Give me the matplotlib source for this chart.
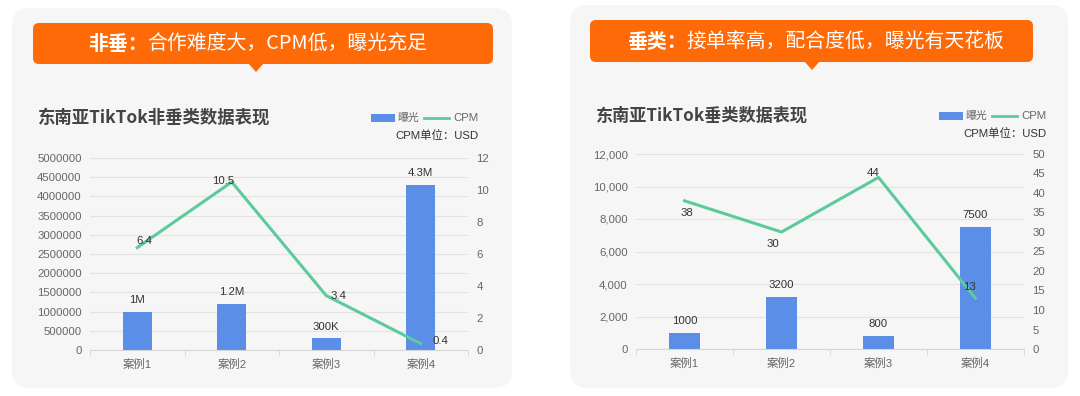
import numpy as np
import matplotlib
matplotlib.use('Agg')
import matplotlib.pyplot as plt
from matplotlib.patches import FancyBboxPatch, Polygon, Rectangle
from matplotlib.lines import Line2D
from matplotlib.ticker import FuncFormatter

plt.rcParams['font.family'] = ['Liberation Sans', 'Noto Sans CJK SC', 'DejaVu Sans']
CJK = ['Noto Sans CJK SC', 'DejaVu Sans']

# data
categories = ['案例1', '案例2', '案例3', '案例4']

left_exposure = [1000000, 1200000, 300000, 4300000]
left_exposure_labels = ['1M', '1.2M', '300K', '4.3M']
left_cpm = [6.4, 10.5, 3.4, 0.4]

right_exposure = [1000, 3200, 800, 7500]
right_exposure_labels = ['1000', '3200', '800', '7500']
right_cpm = [38, 30, 44, 13]

BLUE = '#5b8ee6'
GREEN = '#5ccb9b'
ORANGE = '#fd6a07'
PANEL = '#f6f6f7'
TICK = '#666666'
DARK = '#333333'
FS = 8.2

fig = plt.figure(figsize=(10.8, 3.96), dpi=100)
fig.patch.set_facecolor('white')

# background layer in pixel coords
bg = fig.add_axes([0, 0, 1, 1])
bg.set_xlim(0, 1080)
bg.set_ylim(396, 0)
bg.axis('off')


def panel(x0, y0, x1, y1):
    bg.add_patch(FancyBboxPatch((x0 + 18, y0 + 18), x1 - x0 - 36, y1 - y0 - 36,
                                boxstyle='round,pad=18', fc=PANEL, ec='none'))


def banner(x0, y0, x1, y1, tip, bold_txt, txt, tx):
    bg.add_patch(FancyBboxPatch((x0 + 6, y0 + 6), x1 - x0 - 12, y1 - y0 - 12,
                                boxstyle='round,pad=6', fc=ORANGE, ec='none'))
    bg.add_patch(Polygon([(tip - 8, y1 - 1), (tip + 8, y1 - 1), (tip, y1 + 8)],
                         closed=True, fc=ORANGE, ec='none'))
    cy = (y0 + y1) / 2
    t = bg.text(tx, cy, bold_txt, color='white', fontsize=14.3, fontweight='bold',
                va='center', ha='left', family=CJK)
    bg.annotate(txt, xy=(1, 0.5), xycoords=t, xytext=(0, 0), textcoords='offset points',
                color='white', fontsize=14.3, va='center', ha='left', family=CJK)


def header(x_title, y, title, size, R):
    bg.text(x_title, y, title, fontsize=size, fontweight='bold', color='#444444',
            va='center', ha='left', family=CJK)
    # legend, laid out from its right edge R
    bg.add_patch(Rectangle((R - 107, y - 4), 24, 8, fc=BLUE, ec='none'))
    bg.text(R - 81, y, '曝光', fontsize=7.8, color=TICK, va='center', ha='left')
    bg.add_line(Line2D([R - 54, R - 29], [y, y], color=GREEN, lw=2))
    bg.text(R, y, 'CPM', fontsize=FS, color=TICK, va='center', ha='right')
    bg.text(R, y + 18, 'CPM单位：USD', fontsize=FS, color=DARK,
            va='center', ha='right')


panel(12, 8, 512, 388)
panel(570, 5, 1068, 388)
banner(33, 23, 493, 64, 256, '非垂：', '合作难度大，CPM低，曝光充足', 88)
banner(590, 20, 1033, 62, 812, '垂类：', '接单率高，配合度低，曝光有天花板', 627)
header(38, 118, '东南亚TikTok非垂类数据表现', 12.5, 478)
header(596, 116, '东南亚TikTok垂类数据表现', 12.3, 1046)


def chart(rect, bars, bar_labels, cpm, ymax, ystep, y2max, y2step, fmt, offsets):
    ax = fig.add_axes(rect)
    ax.patch.set_alpha(0)
    x = np.arange(len(categories))
    ax.bar(x, bars, width=0.31, color=BLUE, zorder=2)
    for xi, v, lab in zip(x, bars, bar_labels):
        ax.annotate(lab, (xi, v), xytext=(0, 5), textcoords='offset points',
                    ha='center', va='bottom', fontsize=FS, color=DARK)
    ax.set_xlim(-0.5, len(categories) - 0.5)
    ax.set_ylim(0, ymax)
    ax.set_yticks(np.arange(0, ymax + 1, ystep))
    ax.yaxis.set_major_formatter(FuncFormatter(fmt))
    ax.set_xticks(x)
    ax.set_xticklabels(categories)
    ax.set_xticks(np.arange(-0.5, len(categories)), minor=True)
    ax.grid(axis='y', color='#e3e3e3', lw=0.8, zorder=0)
    for s in ['top', 'right', 'left']:
        ax.spines[s].set_visible(False)
    ax.spines['bottom'].set_color('#d6d6d6')
    ax.tick_params(axis='x', which='major', length=0, colors=TICK, labelsize=FS, pad=6)
    ax.tick_params(axis='x', which='minor', length=4, color='#d6d6d6')
    ax.tick_params(axis='y', length=0, colors=TICK, labelsize=FS, pad=6)

    ax2 = ax.twinx()
    ax2.plot(x, cpm, color=GREEN, lw=2.2, zorder=3)
    for xi, v, (dx, dy) in zip(x, cpm, offsets):
        ax2.annotate(f'{v:g}', (xi, v), xytext=(dx, dy), textcoords='offset points',
                     ha='center', va='center', fontsize=FS, color=DARK)
    ax2.set_ylim(0, y2max)
    ax2.set_yticks(np.arange(0, y2max + 1, y2step))
    for s in ax2.spines.values():
        s.set_visible(False)
    ax2.tick_params(axis='y', length=0, colors=TICK, labelsize=FS, pad=6)
    return ax


chart([90 / 1080, 46 / 396, 378 / 1080, 192 / 396],
      left_exposure, left_exposure_labels, left_cpm,
      5000000, 500000, 12, 2, lambda v, p: f'{int(v)}',
      [(5, 5), (-6, 1), (9, 0), (14, 2)])
chart([636 / 1080, 47 / 396, 388 / 1080, 195 / 396],
      right_exposure, right_exposure_labels, right_cpm,
      12000, 2000, 50, 5, lambda v, p: f'{int(v):,}',
      [(2, -9), (-6, -9), (-4, 3), (-4, 8)])

fig.savefig('out.png', dpi=100)
